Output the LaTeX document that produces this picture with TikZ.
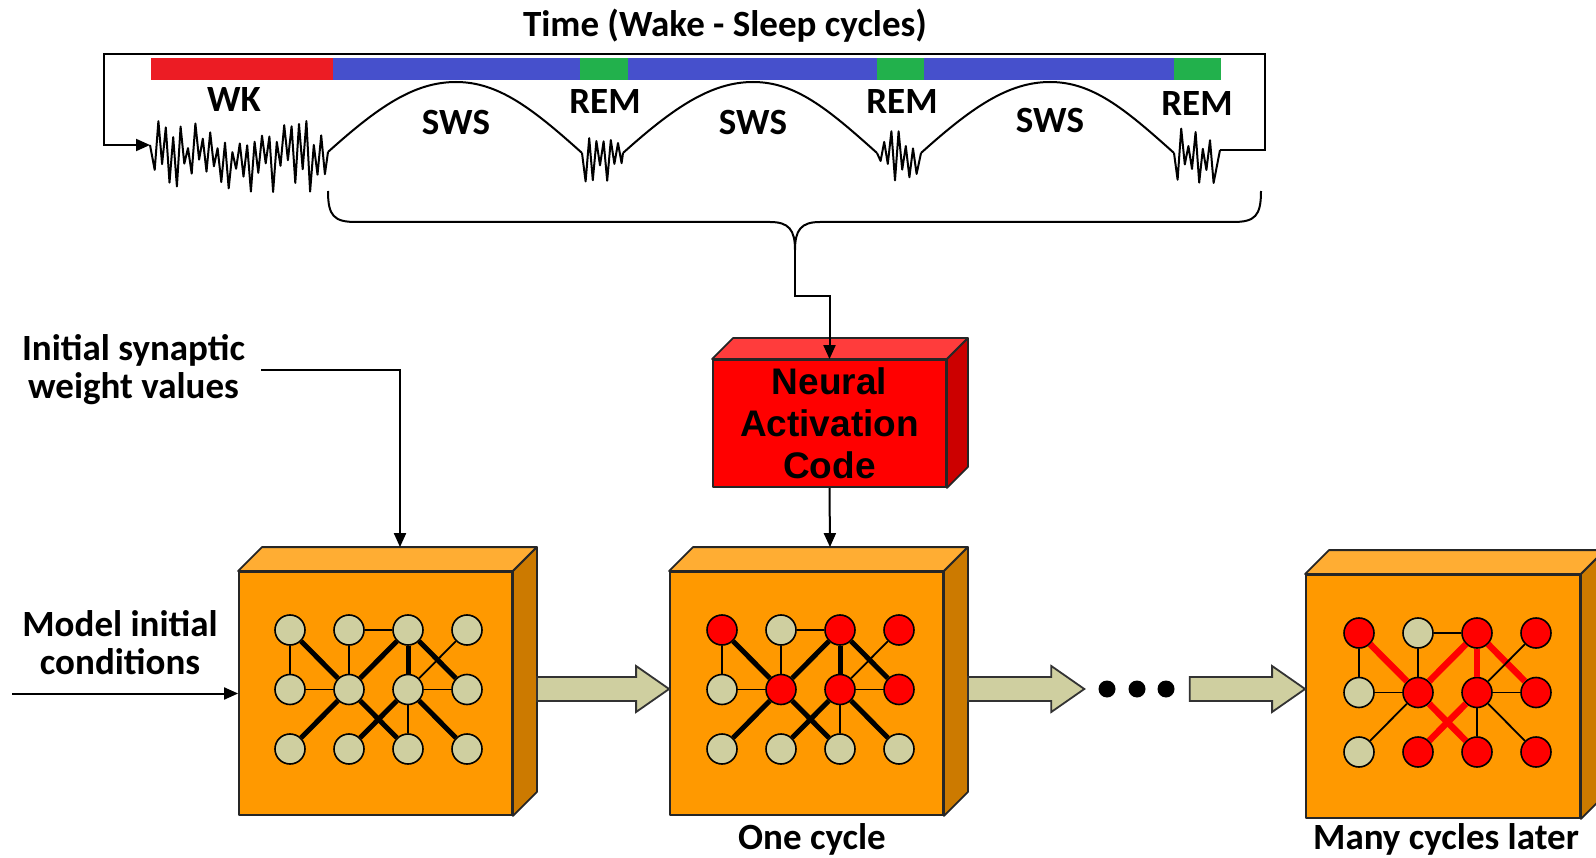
\documentclass[tikz,border=0pt]{standalone}
\usepackage{fontspec}
\setmainfont{Carlito}
\newfontfamily\codefont{Liberation Sans}
\usetikzlibrary{arrows.meta,calc}

\definecolor{wkred}{HTML}{EC1C24}
\definecolor{swsblue}{HTML}{4650CC}
\definecolor{remgreen}{HTML}{22B14C}
\definecolor{slabfront}{HTML}{FF9900}
\definecolor{slabtop}{HTML}{FFAD33}
\definecolor{slabside}{HTML}{CC7A00}
\definecolor{codetop}{HTML}{FF3C3C}
\definecolor{codeside}{HTML}{CC0000}
\definecolor{unit}{HTML}{CFCFA0}
\definecolor{hotunit}{HTML}{FF0000}

% top and side face of a box whose front face is node #1, depth #2
\newcommand{\slabfaces}[4]{%
  \filldraw[rim, fill=#3] (#1.north west) -- ++(#2,-#2) -- ($(#1.north east)+(#2,-#2)$) -- (#1.north east) -- cycle;
  \filldraw[rim, fill=#4] (#1.north east) -- ++(#2,-#2) -- ($(#1.south east)+(#2,-#2)$) -- (#1.south east) -- cycle;}
% wide arrow from #1 to #2 (same height)
\newcommand{\fatarrow}[2]{%
  \filldraw[fat] ($(#1)+(0,-12)$) -- ($(#2)+(-33,-12)$) -- ($(#2)+(-33,-23)$) -- (#2)
    -- ($(#2)+(-33,23)$) -- ($(#2)+(-33,12)$) -- ($(#1)+(0,12)$) -- cycle;}

\begin{document}
\begin{tikzpicture}[x=1pt, y=-1pt, >={Triangle[length=14pt,width=12pt]},
  font=\bfseries\fontsize{37}{38}\selectfont,
  txt/.style={anchor=base, inner sep=0pt},
  trace/.style={line width=2pt, line join=round},
  wire/.style={line width=2pt, ->},
  rim/.style={draw=black!85, line width=1.8pt, line join=round},
  slab/.style={rim, fill=slabfront, minimum width=273pt, minimum height=243pt, inner sep=0pt},
  codebox/.style={rim, fill=red, minimum width=233pt, minimum height=127pt, inner sep=0pt, align=center,
    font=\codefont\bfseries\fontsize{37}{42}\selectfont},
  cell/.style={circle, draw, line width=1.6pt, fill=unit, minimum size=30pt, inner sep=0pt},
  hot/.style={cell, fill=hotunit},
  weak/.style={line width=1.8pt},
  strong/.style={line width=5pt},
  hotlink/.style={line width=6.5pt, draw=hotunit},
  fat/.style={draw=black!80, fill=unit, line width=1.8pt},
  dot/.style={circle, fill=black, minimum size=17pt, inner sep=0pt}]
\useasboundingbox (0,0) rectangle (1596,858);

% stage bar
\foreach \a/\b/\col in {151/333/wkred,333/580/swsblue,580/628/remgreen,628/877/swsblue,877/924/remgreen,924/1174/swsblue,1174/1221/remgreen}
  \fill[\col] (\a,58) rectangle (\b,80);

% trace
\coordinate (wkin) at (150,145);
\coordinate (wkend) at (328,152);
\coordinate (rem1a) at (582,153);
\coordinate (rem1b) at (623,153);
\coordinate (rem2a) at (877,153);
\coordinate (rem2b) at (921,153);
\coordinate (rem3a) at (1174,153);
\coordinate (rem3b) at (1220,150);
\pgfmathsetseed{42}
\draw[trace] (wkin) \foreach \i in {1,...,47}{ -- ({151+3.7*\i},{156+(2*mod(\i,2)-1)*(3+33*rnd)}) } -- (wkend);
\foreach \p/\q in {rem1a/rem1b,rem2a/rem2b,rem3a/rem3b}
  {\draw[trace] (\p) \foreach \i in {1,...,11}{ -- ($(\p)+(3.6*\i,{2+(2*mod(\i,2)-1)*(4+25*rnd)})$) } -- (\q);}
\foreach \p/\q/\m in {wkend/rem1a/456,rem1b/rem2a/753,rem2b/rem3a/1050}
  {\draw[trace] (\p) .. controls ($(\p)+(50,-45)$) and ({\m-42},82) .. (\m,82)
    .. controls ({\m+42},82) and ($(\q)+(-50,-45)$) .. (\q);}
\draw[wire] (rem3b) -- (1265,150) |- (104,54) |- (wkin);

% brace
\coordinate (brl) at (328,191);
\coordinate (brr) at (1261,191);
\coordinate (brtip) at (795,250);
\coordinate (kink) at (795,296);
\draw[trace] (brl) .. controls (328,216) and (334,222) .. (356,222) -- (770,222)
  .. controls (789,222) and (795,230) .. (brtip)
  .. controls (795,230) and (801,222) .. (820,222) -- (1233,222)
  .. controls (1255,222) and (1261,216) .. (brr);

% code box
\node[codebox] (code) at (829.5,423.5) {Neural\\Activation\\Code};
\slabfaces{code}{21}{codetop}{codeside}
\draw[wire] (brtip) -- (kink) -| (code.north);

% network boxes
\node[slab] (box1) at (375.5,693.5) {};
\node[slab] (box2) at (806.5,693.5) {};
\node[slab, minimum width=274pt] (box3) at (1443,696.5) {};
\foreach \b in {box1,box2,box3} {\slabfaces{\b}{24}{slabtop}{slabside}}

\foreach \c in {1,...,4} \foreach \r in {1,2,3}
  {\node[cell] (w\c\r) at ({290+59*(\c-1)},{630+59.5*(\r-1)}) {};}
\foreach \c/\r/\s in {1/1/hot,2/1/cell,3/1/hot,4/1/hot,1/2/cell,2/2/hot,3/2/hot,4/2/hot,1/3/cell,2/3/cell,3/3/cell,4/3/cell}
  {\node[\s] (o\c\r) at ({722+59*(\c-1)},{630+59.5*(\r-1)}) {};}
\foreach \c/\r/\s in {1/1/hot,2/1/cell,3/1/hot,4/1/hot,1/2/cell,2/2/hot,3/2/hot,4/2/hot,1/3/cell,2/3/hot,3/3/hot,4/3/hot}
  {\node[\s] (m\c\r) at ({1359+59*(\c-1)},{633+59.5*(\r-1)}) {};}

\foreach \a/\b in {11/12,12/22,21/22,21/31,41/32,32/42,32/33}
  {\draw[weak] (w\a) -- (w\b); \draw[weak] (o\a) -- (o\b);}
\foreach \a/\b in {11/22,22/31,31/32,31/42,22/13,22/33,32/23,32/43}
  {\draw[strong] (w\a) -- (w\b); \draw[strong] (o\a) -- (o\b);}
\foreach \a/\b in {11/22,22/31,31/32,31/42,22/33,32/23}
  {\draw[hotlink] (m\a) -- (m\b);}
\foreach \a/\b in {11/12,12/22,21/22,21/31,41/32,32/42,32/33,22/13,32/43}
  {\draw[weak] (m\a) -- (m\b);}

% labels
\node[txt] (title) at (725,37) {Time (Wake - Sleep cycles)};
\node[txt] (wk) at (234,112) {WK};
\node[txt] (sws1) at (456,135) {SWS};
\node[txt] (sws2) at (753,135) {SWS};
\node[txt] (sws3) at (1050,133) {SWS};
\node[txt] (rem1) at (605,114) {REM};
\node[txt] (rem2) at (902,114) {REM};
\node[txt] (rem3) at (1197,116) {REM};
\node[align=center, inner xsep=16pt, inner ysep=0pt] (initw) at (133.5,370) {Initial synaptic\\weight values};
\node[align=center, inner sep=0pt] (modic) at (120,643) {Model initial\\conditions};
\node[txt] (onecyc) at (812,849) {One cycle};
\node[txt] (many) at (1446,849) {Many cycles later};

% inputs
\coordinate (wein) at ($(box1.north)+(24.5,-24)$);
\coordinate (onein) at ($(box2.north)+(23.5,-24)$);
\coordinate (modin) at (12,693.5);
\draw[wire] (initw.east) -| (wein);
\draw[wire] (code.south) -- (onein);
\draw[wire] (modin) -- (box1.west);

% cycles
\foreach \i/\x in {1/1107,2/1137,3/1166} {\node[dot] (dot\i) at (\x,689) {};}
\coordinate (t1) at ($(box1.east)+(24,-4.5)$);
\coordinate (h1) at (t1 -| box2.west);
\coordinate (t2) at ($(box2.east)+(24,-4.5)$);
\coordinate (h2) at ($(dot1.west)+(-14,0)$);
\coordinate (t3) at ($(dot3.east)+(15,0)$);
\coordinate (h3) at (t3 -| box3.west);
\fatarrow{t1}{h1}
\fatarrow{t2}{h2}
\fatarrow{t3}{h3}
\end{tikzpicture}
\end{document}
